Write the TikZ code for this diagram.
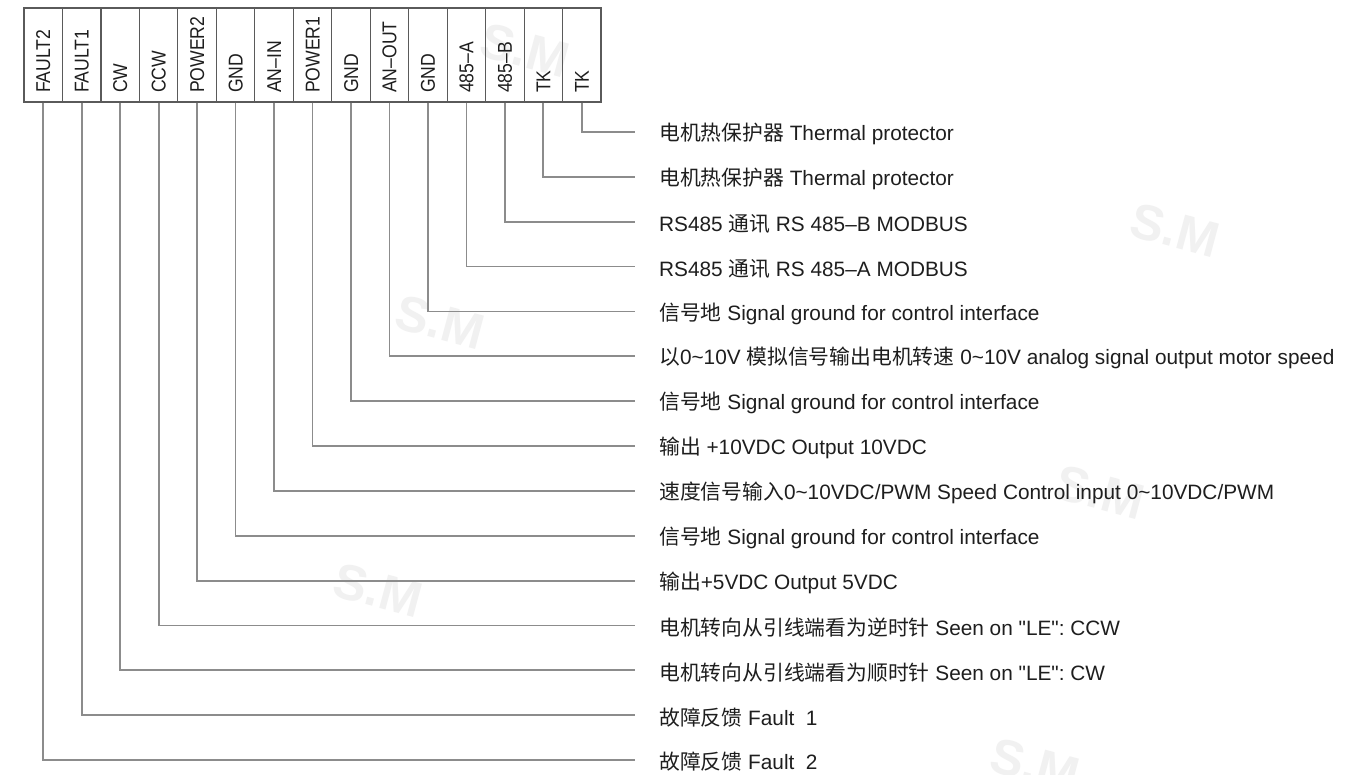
\documentclass[tikz,border=0pt]{standalone}
\usepackage{fontspec}
\setmainfont{Liberation Sans}
\newfontfamily\cjk{Noto Sans CJK SC}
\newfontfamily\qfont{Liberation Sans}
\newcommand\zh[1]{{\cjk #1}}
\newcommand\tld{\textasciitilde}
\newcommand\dq{{\qfont\char34}}
\frenchspacing
\definecolor{wirecol}{HTML}{8C8C8C}
\definecolor{boxcol}{HTML}{5A5A5A}
\definecolor{txtcol}{HTML}{1E1E1E}
\definecolor{wmcol}{HTML}{F1F1F1}
\tikzset{
  cell/.style={draw=boxcol, line width=1.2pt, minimum width=38.47pt, minimum height=94pt, inner sep=0pt},
  pinlabel/.style={rotate=90, anchor=west, inner sep=0pt, text=txtcol, font=\fontsize{20}{22}\selectfont, text height=14pt, text depth=0pt},
  wire/.style={draw=wirecol, line width=1.8pt},
  desc/.style={anchor=west, inner sep=0pt, xshift=24pt, yshift=-2pt, text=txtcol, font=\fontsize{20.8}{24}\selectfont},
  wmark/.style={text=wmcol, font=\bfseries\fontsize{50}{50}\selectfont, rotate=-15}
}
\begin{document}
\begin{tikzpicture}[x=1pt,y=-1pt]
\useasboundingbox[fill=white] (0,0) rectangle (1351,775);
% watermarks
\node[wmark] (w1) at (525,50) {S.M};
\node[wmark] (w2) at (440,322) {S.M};
\node[wmark] (w3) at (378,590) {S.M};
\node[wmark] (w4) at (1175,230) {S.M};
\node[wmark] (w5) at (1100,492) {S.M};
\node[wmark] (w6) at (1035,765) {S.M};
% header cells
\foreach \n [count=\i from 0] in {FAULT2,FAULT1,CW,CCW,POWER2,GND,AN–IN,POWER1,GND,AN–OUT,GND,485–A,485–B,TK,TK} {
  \pgfmathsetmacro\cx{24+38.47*(\i+0.5)}
  \node[cell] (c\i) at (\cx,55) {};
  \node[pinlabel] (p\i) at (\cx,93) {\scalebox{0.88}[1]{\n}};
}
% row end coordinates
\foreach \r in {0,...,14} {
  \pgfmathsetmacro\ry{132+44.86*\r}
  \coordinate (e\r) at (635,\ry);
}
% labels
\node[desc] (l0) at (e0) {\zh{电机热保护器} Thermal protector};
\node[desc] (l1) at (e1) {\zh{电机热保护器} Thermal protector};
\node[desc] (l2) at (e2) {RS485 \zh{通讯} RS 485–B MODBUS};
\node[desc] (l3) at (e3) {RS485 \zh{通讯} RS 485–A MODBUS};
\node[desc] (l4) at (e4) {\zh{信号地} Signal ground for control interface};
\node[desc] (l5) at (e5) {\zh{以}0\tld10V \zh{模拟信号输出电机转速} 0\tld10V analog signal output motor speed};
\node[desc] (l6) at (e6) {\zh{信号地} Signal ground for control interface};
\node[desc] (l7) at (e7) {\zh{输出} +10VDC Output 10VDC};
\node[desc] (l8) at (e8) {\zh{速度信号输入}0\tld10VDC/PWM Speed Control input 0\tld10VDC/PWM};
\node[desc] (l9) at (e9) {\zh{信号地} Signal ground for control interface};
\node[desc] (l10) at (e10) {\zh{输出}+5VDC Output 5VDC};
\node[desc] (l11) at (e11) {\zh{电机转向从引线端看为逆时针} Seen on \dq LE\dq: CCW};
\node[desc] (l12) at (e12) {\zh{电机转向从引线端看为顺时针} Seen on \dq LE\dq: CW};
\node[desc] (l13) at (e13) {\zh{故障反馈} Fault\ \ 1};
\node[desc] (l14) at (e14) {\zh{故障反馈} Fault\ \ 2};
% connectors
\foreach \i in {0,...,14} {
  \pgfmathtruncatemacro\r{14-\i}
  \draw[wire] (c\i.south) |- (e\r);
}
\end{tikzpicture}
\end{document}
